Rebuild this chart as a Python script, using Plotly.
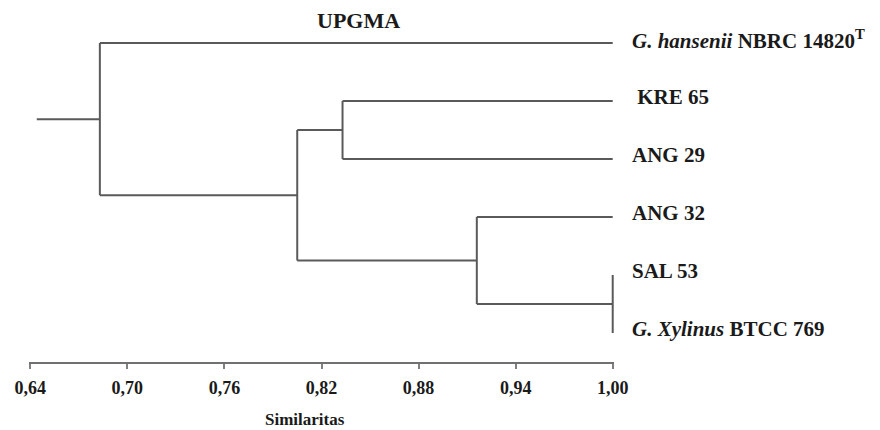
import plotly.graph_objects as go

# ---- data ----
leaf_labels = [
    "<i>G. hansenii</i> NBRC 14820<sup>T</sup>",
    " KRE 65",
    "ANG 29",
    "ANG 32",
    "SAL 53",
    "<i>G. Xylinus</i> BTCC 769",
]
# UPGMA linkage: node ids 0-5 are leaves, merges create ids 6, 7, ...
link_left = [1, 4, 3, 6, 0]
link_right = [2, 5, 7, 8, 9]
link_sim = [0.833, 1.00, 0.916, 0.805, 0.683]
root_start = 0.644

tick_vals = [0.64, 0.70, 0.76, 0.82, 0.88, 0.94, 1.00]
tick_text = ["0,64", "0,70", "0,76", "0,82", "0,88", "0,94", "1,00"]

# ---- build dendrogram segments ----
node_x = {i: 1.00 for i in range(len(leaf_labels))}
node_y = {i: float(i) for i in range(len(leaf_labels))}
xs, ys = [], []
for k, (a, b, s) in enumerate(zip(link_left, link_right, link_sim)):
    nid = len(leaf_labels) + k
    for c in (a, b):
        xs += [s, node_x[c], None]
        ys += [node_y[c], node_y[c], None]
    xs += [s, s, None]
    ys += [node_y[a], node_y[b], None]
    node_x[nid] = s
    node_y[nid] = (node_y[a] + node_y[b]) / 2
root = len(leaf_labels) + len(link_sim) - 1
xs += [root_start, node_x[root], None]
ys += [node_y[root], node_y[root], None]

serif = "Liberation Serif, Times New Roman, serif"

fig = go.Figure()
fig.add_trace(go.Scatter(x=xs, y=ys, mode="lines",
                         line=dict(color="#5a5a5a", width=2),
                         hoverinfo="skip", showlegend=False))

annotations = []
for i, lab in enumerate(leaf_labels):
    annotations.append(dict(x=1.00, y=i, xref="x", yref="y", text="<b>" + lab + "</b>",
                            showarrow=False, xanchor="left", yanchor="middle",
                            xshift=17, yshift=4,
                            font=dict(family=serif, size=21, color="#1a1a1a")))
annotations.append(dict(x=0.843, y=1, xref="x", yref="paper", text="<b>UPGMA</b>",
                        showarrow=False, xanchor="center", yanchor="middle", yshift=-6,
                        font=dict(family=serif, size=22, color="#1a1a1a")))
annotations.append(dict(x=0.810, y=0, xref="x", yref="paper", text="<b>Similaritas</b>",
                        showarrow=False, xanchor="center", yanchor="middle", yshift=-57,
                        font=dict(family=serif, size=17, color="#1a1a1a")))

fig.update_layout(
    width=880, height=430,
    margin=dict(l=29, r=266, t=14, b=68),
    paper_bgcolor="white", plot_bgcolor="white",
    annotations=annotations,
    xaxis=dict(range=[0.6392, 1.0008], showgrid=False, zeroline=False,
               showline=True, linecolor="#707070", linewidth=2,
               ticks="outside", ticklen=5, tickwidth=1.5, tickcolor="#808080",
               ticklabelstandoff=3,
               tickvals=tick_vals, ticktext=["<b>" + t + "</b>" for t in tick_text],
               tickfont=dict(family=serif, size=18, color="#1a1a1a")),
    yaxis=dict(range=[5.5, -0.5], visible=False, showgrid=False, zeroline=False),
)

fig.write_html("out.html", config={"displayModeBar": False},
               post_script="document.body.style.margin='0';document.body.style.overflow='hidden';")
